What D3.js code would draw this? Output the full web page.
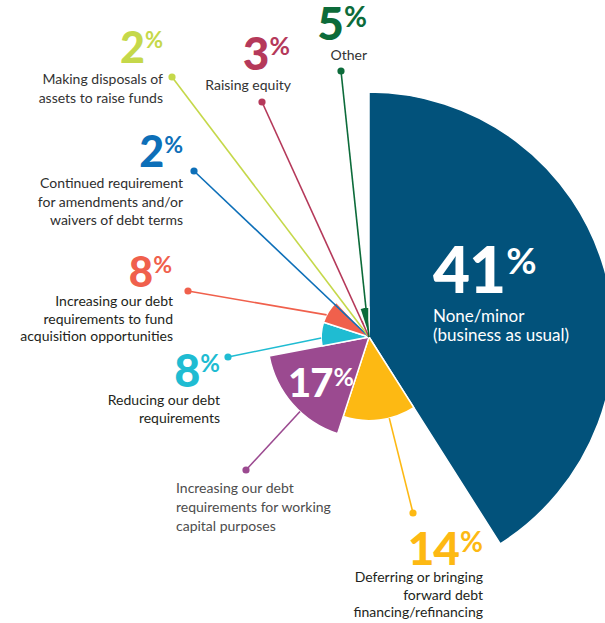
<!DOCTYPE html>
<html>
<head>
<meta charset="utf-8">
<script src="https://cdn.jsdelivr.net/npm/d3@7"></script>
<style>
  html, body { margin: 0; padding: 0; background: #fff; }
  svg { display: block; font-family: Lato, "Open Sans", sans-serif; }
</style>
</head>
<body>
<svg id="chart" width="605" height="623"></svg>
<script>
// Survey responses, in clockwise order from 12 o'clock
const categories = [
  "None/minor (business as usual)",
  "Deferring or bringing forward debt financing/refinancing",
  "Increasing our debt requirements for working capital purposes",
  "Reducing our debt requirements",
  "Increasing our debt requirements to fund acquisition opportunities",
  "Continued requirement for amendments and/or waivers of debt terms",
  "Making disposals of assets to raise funds",
  "Raising equity",
  "Other"
];
const shares = [41, 14, 17, 8, 8, 2, 2, 3, 5];
const labelLines = [
  ["None/minor", "(business as usual)"],
  ["Deferring or bringing", "forward debt", "financing/refinancing"],
  ["Increasing our debt", "requirements for working", "capital purposes"],
  ["Reducing our debt", "requirements"],
  ["Increasing our debt", "requirements to fund", "acquisition opportunities"],
  ["Continued requirement", "for amendments and/or", "waivers of debt terms"],
  ["Making disposals of", "assets to raise funds"],
  ["Raising equity"],
  ["Other"]
];
const colors = ["#02527b", "#fdb913", "#9b4a90", "#1fbcd2", "#f0604c",
                "#0d6fb8", "#c5d84a", "#b5395a", "#0c6b3a"];

// Annotation layout: leader dot, big-number anchor and caption anchor for each slice
const layout = [
  { dot: null,       num: [433, 293, "start", 64, 37, "#fff"], text: [433, 322, "start", 17, 19, "#fff"] },
  { dot: [413, 513], num: [483, 565, "end",   46, 28, null],   text: [483, 582, "end",   14, 17.5, "#231f20"] },
  { dot: [246, 470], num: [288, 397, "start", 40, 25, "#fff"], text: [176, 493, "start", 14, 19, "#4d4d4d"] },
  { dot: [228, 357], num: [220, 387, "end",   45, 24, null],   text: [220, 405, "end",   14, 18, "#231f20"] },
  { dot: [188, 291], num: [172, 287, "end",   42, 23, null],   text: [173, 306, "end",   14, 17.5, "#231f20"] },
  { dot: [194, 171], num: [183, 167, "end",   43, 23, null],   text: [183, 188, "end",   14, 18.5, "#2e2e2e"] },
  { dot: [172, 77],  num: [163, 63,  "end",   43, 22, null],   text: [163, 84,  "end",   14, 19, "#333"] },
  { dot: [262, 102], num: [290, 70,  "end",   46, 25, null],   text: [291, 90,  "end",   14, 18, "#333"] },
  { dot: [341, 71],  num: [367, 40,  "end",   46, 28, null],   text: [367, 60,  "end",   14, 18, "#333"] }
];

const cx = 369, cy = 337;
const svg = d3.select("#chart");
const g = svg.append("g").attr("transform", `translate(${cx},${cy})`);

const data = categories.map((c, i) => ({ category: c, value: shares[i], i }));

// Angle and radius both encode the share
const rScale = d3.scaleLinear().domain([0, 41]).range([0, 245]);
const pie = d3.pie().sort(null).value(d => d.value).startAngle(0).endAngle(2 * Math.PI);
const arcs = pie(data);
const arc = d3.arc().innerRadius(0).outerRadius(d => rScale(d.data.value));

g.selectAll("path.slice")
  .data(arcs)
  .join("path")
  .attr("class", "slice")
  .attr("d", arc)
  .attr("fill", d => colors[d.data.i])
  .attr("stroke", "#fff")
  .attr("stroke-width", 1.5)
  .attr("stroke-linejoin", "round");

// Leader lines from each caption dot to its slice
function leaderEnd(d, dot) {
  const r = rScale(d.data.value);
  const dx = dot[0] - cx, dy = dot[1] - cy;
  if (r < 35) return [0, 0];
  let a = Math.atan2(dx, -dy);
  if (a < 0) a += 2 * Math.PI;
  const margin = 10 * Math.PI / 180;
  const lo = d.startAngle + Math.min(margin, (d.endAngle - d.startAngle) / 3);
  const hi = d.endAngle - Math.min(margin, (d.endAngle - d.startAngle) / 3);
  a = Math.max(lo, Math.min(hi, a));
  return [r * Math.sin(a), -r * Math.cos(a)];
}

const leaders = svg.append("g");
arcs.forEach(d => {
  const L = layout[d.data.i];
  if (!L.dot) return;
  const end = leaderEnd(d, L.dot);
  leaders.append("line")
    .attr("x1", L.dot[0]).attr("y1", L.dot[1])
    .attr("x2", cx + end[0]).attr("y2", cy + end[1])
    .attr("stroke", colors[d.data.i])
    .attr("stroke-width", 1.6);
  leaders.append("circle")
    .attr("cx", L.dot[0]).attr("cy", L.dot[1])
    .attr("r", 3.6)
    .attr("fill", colors[d.data.i]);
});

// Big percentage figures with raised percent sign, plus captions
const labels = svg.append("g");
data.forEach(d => {
  const L = layout[d.i];
  const [nx, ny, nAnchor, f1, f2, nColor] = L.num;
  const t = labels.append("text")
    .attr("x", nx).attr("y", ny)
    .attr("text-anchor", nAnchor)
    .attr("fill", nColor || colors[d.i])
    .style("font-weight", 900)
    .style("font-size", f1 + "px")
    .style("letter-spacing", "-1px");
  t.append("tspan").text(d.value);
  t.append("tspan")
    .attr("dy", -0.72 * (f1 - f2))
    .attr("dx", 1)
    .style("font-size", f2 + "px")
    .style("font-weight", 700)
    .style("letter-spacing", "0px")
    .text("%");

  const [tx, ty, tAnchor, fs, lh, tColor] = L.text;
  const cap = labels.append("text")
    .attr("text-anchor", tAnchor)
    .attr("fill", tColor)
    .style("font-size", fs + "px");
  labelLines[d.i].forEach((line, k) => {
    cap.append("tspan").attr("x", tx).attr("y", ty + k * lh).text(line);
  });
});
</script>
</body>
</html>
